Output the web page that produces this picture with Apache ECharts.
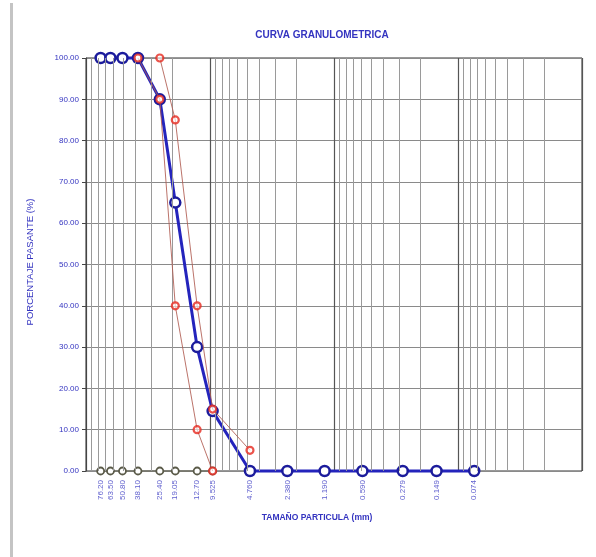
<!DOCTYPE html>
<html><head><meta charset="utf-8">
<script src="https://cdn.jsdelivr.net/npm/echarts@6/dist/echarts.min.js"></script>
<style>html,body{margin:0;padding:0;background:#fff}#c{width:596px;height:557px}</style>
</head><body><div id="c"></div>
<script>
// ---- data ----
const sieveSizes = [76.2, 63.5, 50.8, 38.1, 25.4, 19.05, 12.7, 9.525, 4.76, 2.38, 1.19, 0.59, 0.279, 0.149, 0.074];
const sieveLabels = ['76.20','63.50','50.80','38.10','25.40','19.05','12.70','9.525','4.760','2.380','1.190','0.590','0.279','0.149','0.074'];
const passing = [100, 100, 100, 100, 90, 65, 30, 14.5, 0, 0, 0, 0, 0, 0, 0];
const upperSizes = [25.4, 19.05, 12.7, 9.525, 4.76];
const upperLimit = [100, 85, 40, 15, 5];
const lowerSizes = [38.1, 25.4, 19.05, 12.7, 9.525];
const lowerLimit = [100, 90, 40, 10, 0];
const zeroSizes = [76.2, 63.5, 50.8, 38.1, 25.4, 19.05, 12.7, 9.525];
const zeroValues = [0, 0, 0, 0, 0, 0, 0, 0];
const minorGrid = [90,80,70,60,50,40,30,20, 9,8,7,6,5,4,3,2, 0.9,0.8,0.7,0.6,0.5,0.4,0.3,0.2, 0.09,0.08,0.07,0.06,0.05,0.04,0.03,0.02];
const yTicks = [0, 100, 10];

const BLUE_TXT = '#3434c0';
const FONT = 'Liberation Sans, Arial, sans-serif';
const pairs = (xs, ys) => xs.map((x, i) => [x, ys[i]]);

const chart = echarts.init(document.getElementById('c'));
chart.setOption({
  animation: false,
  backgroundColor: '#fff',
  textStyle: { fontFamily: FONT },
  title: {
    text: 'CURVA GRANULOMETRICA',
    left: 317, top: 25, textAlign: 'center',
    textStyle: { color: BLUE_TXT, fontSize: 10, fontWeight: 'bold', fontFamily: FONT }
  },
  grid: { left: 86, right: 14, top: 58, bottom: 86, show: true, borderColor: '#333', borderWidth: 1, backgroundColor: '#fff' },
  xAxis: {
    type: 'log', logBase: 10, min: 0.01, max: 100, inverse: true,
    axisLine: { show: false }, axisTick: { show: false }, axisLabel: { show: false },
    splitLine: { show: true, lineStyle: { color: '#555', width: 1.2 } }
  },
  yAxis: {
    type: 'value', min: yTicks[0], max: yTicks[1], interval: yTicks[2],
    axisLine: { show: true, lineStyle: { color: '#444' } },
    axisTick: { show: true, length: 4, lineStyle: { color: '#444' } },
    axisLabel: { color: BLUE_TXT, fontSize: 8, margin: 7, formatter: v => v.toFixed(2) },
    splitLine: { show: true, lineStyle: { color: '#8a8a8a', width: 1 } }
  },
  graphic: [
    { type: 'rect', shape: { x: 10, y: 3, width: 3, height: 554 }, style: { fill: '#c4c4c4' }, silent: true },
    { type: 'text', x: 30, y: 262, rotation: Math.PI / 2,
      style: { text: 'PORCENTAJE PASANTE (%)', fill: BLUE_TXT, fontSize: 9.5, fontFamily: FONT, textAlign: 'center', textVerticalAlign: 'middle' } },
    { type: 'text', x: 317, y: 518,
      style: { text: 'TAMAÑO PARTICULA (mm)', fill: BLUE_TXT, fontSize: 8.5, fontWeight: 'bold', fontFamily: FONT, textAlign: 'center', textVerticalAlign: 'middle' } }
  ],
  series: [
    {
      type: 'line', silent: true, data: [], symbol: 'none',
      markLine: {
        silent: true, symbol: 'none', animation: false,
        label: { show: false },
        lineStyle: { color: '#9a9a9a', width: 1, type: 'solid' },
        data: minorGrid.map(v => ({ xAxis: v }))
      }
    },
    {
      name: 'ceros', type: 'line', clip: false, z: 3,
      data: pairs(zeroSizes, zeroValues),
      symbol: 'circle', symbolSize: 7,
      lineStyle: { color: '#666655', width: 1 },
      itemStyle: { color: '#fff', borderColor: '#5a5a48', borderWidth: 1.8 }
    },
    {
      name: 'Granulometria', type: 'line', clip: false, z: 4,
      data: pairs(sieveSizes, passing),
      symbol: 'circle', symbolSize: 10,
      lineStyle: { color: '#2424bc', width: 3 },
      itemStyle: { color: '#fff', borderColor: '#1c1c9c', borderWidth: 2.5 }
    },
    {
      name: 'Limite superior', type: 'line', clip: false, z: 5,
      data: pairs(upperSizes, upperLimit),
      symbol: 'circle', symbolSize: 7,
      lineStyle: { color: 'rgba(175,90,80,0.85)', width: 1 },
      itemStyle: { color: 'rgba(255,255,255,0.6)', borderColor: 'rgba(230,40,30,0.8)', borderWidth: 2.2 }
    },
    {
      name: 'Limite inferior', type: 'line', clip: false, z: 5,
      data: pairs(lowerSizes, lowerLimit),
      symbol: 'circle', symbolSize: 7,
      lineStyle: { color: 'rgba(175,90,80,0.85)', width: 1 },
      itemStyle: { color: 'rgba(255,255,255,0.6)', borderColor: 'rgba(230,40,30,0.8)', borderWidth: 2.2 }
    },
    {
      name: 'etiquetas', type: 'scatter', clip: false, silent: true, z: 6,
      data: sieveSizes.map((s, i) => ({ value: [s, 0], label: { formatter: sieveLabels[i] } })),
      symbol: 'circle', symbolSize: 2, itemStyle: { color: 'rgba(0,0,0,0)' },
      label: {
        show: true, position: 'bottom', distance: 8, rotate: 90,
        align: 'right', verticalAlign: 'middle',
        color: BLUE_TXT, fontSize: 8, fontFamily: FONT
      }
    }
  ]
});
</script></body></html>
